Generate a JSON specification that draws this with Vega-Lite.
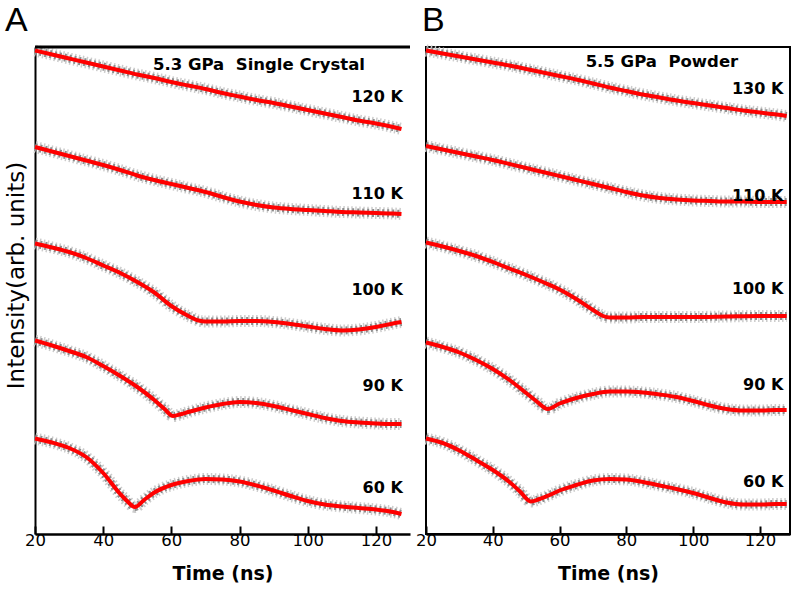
{
  "$schema": "https://vega.github.io/schema/vega-lite/v6.json",
  "background": "white",
  "padding": {"left": 5, "top": 2, "right": 0, "bottom": 0},
  "config": {"font": "DejaVu Sans", "view": {"stroke": null}},
  "spacing": -25,
  "datasets": {
    "A": [
      {"T":"120 K","t":20,"y":96.7},{"T":"120 K","t":25,"y":95.9},{"T":"120 K","t":30,"y":95.1},{"T":"120 K","t":35,"y":94.3},{"T":"120 K","t":40,"y":93.5},{"T":"120 K","t":45,"y":92.7},{"T":"120 K","t":50,"y":91.9},{"T":"120 K","t":55,"y":91.2},{"T":"120 K","t":60,"y":90.4},{"T":"120 K","t":65,"y":89.7},{"T":"120 K","t":70,"y":89.0},{"T":"120 K","t":75,"y":88.2},{"T":"120 K","t":80,"y":87.5},{"T":"120 K","t":85,"y":86.8},{"T":"120 K","t":90,"y":86.2},{"T":"120 K","t":95,"y":85.5},{"T":"120 K","t":100,"y":84.8},{"T":"120 K","t":105,"y":84.1},{"T":"120 K","t":110,"y":83.4},{"T":"120 K","t":115,"y":82.7},{"T":"120 K","t":120,"y":82.1},{"T":"120 K","t":125,"y":81.4},{"T":"120 K","t":127.5,"y":81.0},
      {"T":"110 K","t":20,"y":77.4},{"T":"110 K","t":25,"y":76.5},{"T":"110 K","t":30,"y":75.6},{"T":"110 K","t":35,"y":74.7},{"T":"110 K","t":40,"y":73.8},{"T":"110 K","t":45,"y":72.8},{"T":"110 K","t":50,"y":71.7},{"T":"110 K","t":55,"y":70.8},{"T":"110 K","t":60,"y":70.0},{"T":"110 K","t":65,"y":69.2},{"T":"110 K","t":70,"y":68.4},{"T":"110 K","t":75,"y":67.4},{"T":"110 K","t":80,"y":66.5},{"T":"110 K","t":85,"y":65.8},{"T":"110 K","t":90,"y":65.3},{"T":"110 K","t":95,"y":65.0},{"T":"110 K","t":100,"y":64.8},{"T":"110 K","t":105,"y":64.6},{"T":"110 K","t":110,"y":64.4},{"T":"110 K","t":115,"y":64.3},{"T":"110 K","t":120,"y":64.2},{"T":"110 K","t":125,"y":64.1},{"T":"110 K","t":127.5,"y":64.0},
      {"T":"100 K","t":20,"y":58.1},{"T":"100 K","t":25,"y":57.3},{"T":"100 K","t":30,"y":56.4},{"T":"100 K","t":35,"y":55.2},{"T":"100 K","t":40,"y":53.7},{"T":"100 K","t":45,"y":52.2},{"T":"100 K","t":50,"y":50.4},{"T":"100 K","t":55,"y":48.3},{"T":"100 K","t":60,"y":45.6},{"T":"100 K","t":65,"y":43.6},{"T":"100 K","t":68,"y":42.7},{"T":"100 K","t":70,"y":42.5},{"T":"100 K","t":75,"y":42.5},{"T":"100 K","t":80,"y":42.6},{"T":"100 K","t":85,"y":42.6},{"T":"100 K","t":90,"y":42.4},{"T":"100 K","t":95,"y":42.0},{"T":"100 K","t":100,"y":41.5},{"T":"100 K","t":105,"y":41.0},{"T":"100 K","t":110,"y":40.7},{"T":"100 K","t":115,"y":40.9},{"T":"100 K","t":120,"y":41.4},{"T":"100 K","t":125,"y":42.1},{"T":"100 K","t":127.5,"y":42.4},
      {"T":"90 K","t":20,"y":38.7},{"T":"90 K","t":25,"y":37.7},{"T":"90 K","t":30,"y":36.6},{"T":"90 K","t":35,"y":35.4},{"T":"90 K","t":40,"y":33.6},{"T":"90 K","t":45,"y":31.6},{"T":"90 K","t":50,"y":29.4},{"T":"90 K","t":55,"y":26.8},{"T":"90 K","t":58,"y":25.0},{"T":"90 K","t":60.5,"y":23.6},{"T":"90 K","t":63,"y":24.0},{"T":"90 K","t":65,"y":24.4},{"T":"90 K","t":70,"y":25.3},{"T":"90 K","t":75,"y":26.0},{"T":"90 K","t":80,"y":26.4},{"T":"90 K","t":85,"y":26.2},{"T":"90 K","t":90,"y":25.6},{"T":"90 K","t":95,"y":24.8},{"T":"90 K","t":100,"y":24.0},{"T":"90 K","t":105,"y":23.2},{"T":"90 K","t":110,"y":22.6},{"T":"90 K","t":115,"y":22.3},{"T":"90 K","t":120,"y":22.1},{"T":"90 K","t":125,"y":22.0},{"T":"90 K","t":127.5,"y":22.0},
      {"T":"60 K","t":20,"y":19.1},{"T":"60 K","t":25,"y":18.3},{"T":"60 K","t":30,"y":17.2},{"T":"60 K","t":35,"y":15.4},{"T":"60 K","t":40,"y":12.2},{"T":"60 K","t":45,"y":8.0},{"T":"60 K","t":47,"y":6.6},{"T":"60 K","t":49.3,"y":5.4},{"T":"60 K","t":52,"y":6.8},{"T":"60 K","t":55,"y":8.3},{"T":"60 K","t":60,"y":9.8},{"T":"60 K","t":65,"y":10.6},{"T":"60 K","t":70,"y":11.0},{"T":"60 K","t":75,"y":10.9},{"T":"60 K","t":80,"y":10.5},{"T":"60 K","t":85,"y":9.7},{"T":"60 K","t":90,"y":8.7},{"T":"60 K","t":95,"y":7.6},{"T":"60 K","t":100,"y":6.6},{"T":"60 K","t":105,"y":5.9},{"T":"60 K","t":110,"y":5.5},{"T":"60 K","t":115,"y":5.2},{"T":"60 K","t":120,"y":4.9},{"T":"60 K","t":125,"y":4.4},{"T":"60 K","t":127.5,"y":4.0}
    ],
    "B": [
      {"T":"130 K","t":20,"y":96.7},{"T":"130 K","t":25,"y":96.1},{"T":"130 K","t":30,"y":95.5},{"T":"130 K","t":35,"y":94.9},{"T":"130 K","t":40,"y":94.3},{"T":"130 K","t":45,"y":93.7},{"T":"130 K","t":50,"y":93.0},{"T":"130 K","t":55,"y":92.3},{"T":"130 K","t":60,"y":91.6},{"T":"130 K","t":65,"y":90.9},{"T":"130 K","t":70,"y":90.1},{"T":"130 K","t":75,"y":89.3},{"T":"130 K","t":80,"y":88.6},{"T":"130 K","t":85,"y":87.9},{"T":"130 K","t":90,"y":87.3},{"T":"130 K","t":95,"y":86.7},{"T":"130 K","t":100,"y":86.2},{"T":"130 K","t":105,"y":85.7},{"T":"130 K","t":110,"y":85.2},{"T":"130 K","t":115,"y":84.7},{"T":"130 K","t":120,"y":84.3},{"T":"130 K","t":125,"y":83.9},{"T":"130 K","t":128,"y":83.6},
      {"T":"110 K","t":20,"y":77.6},{"T":"110 K","t":25,"y":76.9},{"T":"110 K","t":30,"y":76.2},{"T":"110 K","t":35,"y":75.5},{"T":"110 K","t":40,"y":74.8},{"T":"110 K","t":45,"y":74.0},{"T":"110 K","t":50,"y":73.2},{"T":"110 K","t":55,"y":72.4},{"T":"110 K","t":60,"y":71.6},{"T":"110 K","t":65,"y":70.8},{"T":"110 K","t":70,"y":70.0},{"T":"110 K","t":75,"y":69.2},{"T":"110 K","t":80,"y":68.4},{"T":"110 K","t":85,"y":67.7},{"T":"110 K","t":90,"y":67.2},{"T":"110 K","t":95,"y":66.9},{"T":"110 K","t":100,"y":66.7},{"T":"110 K","t":105,"y":66.6},{"T":"110 K","t":110,"y":66.5},{"T":"110 K","t":115,"y":66.5},{"T":"110 K","t":120,"y":66.4},{"T":"110 K","t":125,"y":66.4},{"T":"110 K","t":128,"y":66.4},
      {"T":"100 K","t":20,"y":58.3},{"T":"100 K","t":25,"y":57.5},{"T":"100 K","t":30,"y":56.6},{"T":"100 K","t":35,"y":55.6},{"T":"100 K","t":40,"y":54.4},{"T":"100 K","t":45,"y":53.1},{"T":"100 K","t":50,"y":51.8},{"T":"100 K","t":55,"y":50.4},{"T":"100 K","t":60,"y":48.9},{"T":"100 K","t":65,"y":47.0},{"T":"100 K","t":70,"y":44.8},{"T":"100 K","t":73,"y":43.6},{"T":"100 K","t":75,"y":43.3},{"T":"100 K","t":80,"y":43.3},{"T":"100 K","t":85,"y":43.4},{"T":"100 K","t":90,"y":43.4},{"T":"100 K","t":95,"y":43.4},{"T":"100 K","t":100,"y":43.4},{"T":"100 K","t":110,"y":43.5},{"T":"100 K","t":120,"y":43.6},{"T":"100 K","t":128,"y":43.6},
      {"T":"90 K","t":20,"y":38.3},{"T":"90 K","t":25,"y":37.4},{"T":"90 K","t":30,"y":36.3},{"T":"90 K","t":35,"y":34.8},{"T":"90 K","t":40,"y":33.0},{"T":"90 K","t":45,"y":30.8},{"T":"90 K","t":50,"y":28.2},{"T":"90 K","t":53,"y":26.6},{"T":"90 K","t":56.5,"y":25.0},{"T":"90 K","t":60,"y":26.1},{"T":"90 K","t":63,"y":26.8},{"T":"90 K","t":65,"y":27.2},{"T":"90 K","t":70,"y":28.0},{"T":"90 K","t":75,"y":28.5},{"T":"90 K","t":80,"y":28.5},{"T":"90 K","t":85,"y":28.3},{"T":"90 K","t":90,"y":27.9},{"T":"90 K","t":95,"y":27.4},{"T":"90 K","t":100,"y":26.6},{"T":"90 K","t":105,"y":25.7},{"T":"90 K","t":110,"y":25.0},{"T":"90 K","t":115,"y":24.7},{"T":"90 K","t":120,"y":24.7},{"T":"90 K","t":125,"y":24.8},{"T":"90 K","t":128,"y":24.8},
      {"T":"60 K","t":20,"y":19.1},{"T":"60 K","t":25,"y":18.2},{"T":"60 K","t":30,"y":16.7},{"T":"60 K","t":35,"y":14.8},{"T":"60 K","t":40,"y":12.8},{"T":"60 K","t":45,"y":10.4},{"T":"60 K","t":48,"y":8.6},{"T":"60 K","t":51.4,"y":6.5},{"T":"60 K","t":54,"y":7.0},{"T":"60 K","t":57,"y":7.8},{"T":"60 K","t":60,"y":8.7},{"T":"60 K","t":65,"y":9.8},{"T":"60 K","t":70,"y":10.7},{"T":"60 K","t":75,"y":11.0},{"T":"60 K","t":80,"y":10.9},{"T":"60 K","t":85,"y":10.4},{"T":"60 K","t":90,"y":9.7},{"T":"60 K","t":95,"y":9.0},{"T":"60 K","t":100,"y":8.2},{"T":"60 K","t":105,"y":7.2},{"T":"60 K","t":110,"y":6.3},{"T":"60 K","t":115,"y":5.9},{"T":"60 K","t":120,"y":5.9},{"T":"60 K","t":125,"y":6.0},{"T":"60 K","t":128,"y":6.0}
    ],
    "labA": [
      {"kind":"T","t":127.9,"y":87.4,"label":"120 K"},
      {"kind":"T","t":127.9,"y":68.0,"label":"110 K"},
      {"kind":"T","t":127.9,"y":48.8,"label":"100 K"},
      {"kind":"T","t":127.9,"y":29.6,"label":"90 K"},
      {"kind":"T","t":127.9,"y":9.2,"label":"60 K"},
      {"kind":"S","t":54.6,"y":93.8,"label":"5.3 GPa\u00a0 Single Crystal"}
    ],
    "labB": [
      {"kind":"T","t":127.0,"y":89.0,"label":"130 K"},
      {"kind":"T","t":127.0,"y":67.6,"label":"110 K"},
      {"kind":"T","t":127.0,"y":49.0,"label":"100 K"},
      {"kind":"T","t":127.0,"y":29.8,"label":"90 K"},
      {"kind":"T","t":127.0,"y":10.4,"label":"60 K"},
      {"kind":"S","t":67.8,"y":94.4,"label":"5.5 GPa\u00a0 Powder"}
    ]
  },
  "hconcat": [
    {
      "title": {"text": "A", "anchor": "start", "fontSize": 34, "font": "Liberation Sans", "fontWeight": "normal", "color": "black", "offset": -11},
      "width": 375,
      "height": 487,
      "view": {"stroke": null},
      "layer": [
        {
          "data": {"name": "A"},
          "mark": {"type": "line", "strokeWidth": 12, "color": "#cccccc", "strokeDash": [1.5, 2.5], "interpolate": "monotone"},
          "encoding": {
            "x": {"field": "t", "type": "quantitative", "scale": {"domain": [20, 130], "nice": false, "zero": false},
              "axis": {"title": "Time (ns)", "values": [20, 30, 40, 50, 60, 70, 80, 90, 100, 110, 120], "labelExpr": "datum.value % 20 === 0 ? datum.label : ''",
                "grid": false, "domainColor": "black", "domainWidth": 2.5, "tickColor": "black", "tickWidth": 2,
                "tickSize": {"condition": {"test": "datum.value % 20 === 0", "value": -8}, "value": -4},
                "labelFontSize": 16.5, "labelColor": "black", "labelFlush": false, "labelPadding": 6,
                "titleFontSize": 19, "titleFontWeight": "bold", "titleColor": "black", "titlePadding": 16}},
            "y": {"field": "y", "type": "quantitative", "scale": {"domain": [0, 97.4], "nice": false, "zero": false},
              "axis": {"title": "Intensity(arb. units)", "labels": false, "ticks": false, "grid": false, "domainColor": "black", "domainWidth": 2,
                "titleFontSize": 23, "titleFontWeight": "normal", "titleColor": "black", "titlePadding": 7, "titleY": 228}},
            "detail": {"field": "T"}
          }
        },
        {
          "data": {"name": "A"},
          "mark": {"type": "line", "strokeWidth": 8, "color": "#8c8c8c", "strokeDash": [2, 3], "interpolate": "monotone"},
          "encoding": {"x": {"field": "t", "type": "quantitative"}, "y": {"field": "y", "type": "quantitative"}, "detail": {"field": "T"}}
        },
        {
          "data": {"name": "A"},
          "mark": {"type": "line", "strokeWidth": 4, "color": "#ff0000", "interpolate": "monotone"},
          "encoding": {"x": {"field": "t", "type": "quantitative"}, "y": {"field": "y", "type": "quantitative"}, "detail": {"field": "T"}}
        },
        {
          "data": {"values": [{"t0": 20, "t1": 130, "y": 97.4}]},
          "mark": {"type": "rule", "strokeWidth": 3, "color": "black"},
          "encoding": {"x": {"field": "t0", "type": "quantitative"}, "x2": {"field": "t1"}, "y": {"field": "y", "type": "quantitative"}}
        },
        {
          "data": {"name": "labA"},
          "transform": [{"filter": "datum.kind === 'T'"}],
          "mark": {"type": "text", "align": "right", "baseline": "middle", "fontSize": 16, "fontWeight": "bold", "color": "black"},
          "encoding": {"x": {"field": "t", "type": "quantitative"}, "y": {"field": "y", "type": "quantitative"}, "text": {"field": "label"}}
        },
        {
          "data": {"name": "labA"},
          "transform": [{"filter": "datum.kind === 'S'"}],
          "mark": {"type": "text", "align": "left", "baseline": "middle", "fontSize": 16.5, "fontWeight": "bold", "color": "black"},
          "encoding": {"x": {"field": "t", "type": "quantitative"}, "y": {"field": "y", "type": "quantitative"}, "text": {"field": "label"}}
        }
      ]
    },
    {
      "title": {"text": "B", "anchor": "start", "fontSize": 34, "font": "Liberation Sans", "fontWeight": "normal", "color": "black", "offset": -11, "dx": 20},
      "width": 364,
      "height": 487,
      "view": {"stroke": "black", "strokeWidth": 2},
      "layer": [
        {
          "data": {"name": "B"},
          "mark": {"type": "line", "strokeWidth": 12, "color": "#cccccc", "strokeDash": [1.5, 2.5], "interpolate": "monotone"},
          "encoding": {
            "x": {"field": "t", "type": "quantitative", "scale": {"domain": [20, 129], "nice": false, "zero": false},
              "axis": {"title": "Time (ns)", "values": [20, 30, 40, 50, 60, 70, 80, 90, 100, 110, 120], "labelExpr": "datum.value % 20 === 0 ? datum.label : ''",
                "grid": false, "domainColor": "black", "domainWidth": 2.5, "tickColor": "black", "tickWidth": 2,
                "tickSize": {"condition": {"test": "datum.value % 20 === 0", "value": -8}, "value": -4},
                "labelFontSize": 16.5, "labelColor": "black", "labelFlush": false, "labelPadding": 6,
                "titleFontSize": 19, "titleFontWeight": "bold", "titleColor": "black", "titlePadding": 16}},
            "y": {"field": "y", "type": "quantitative", "scale": {"domain": [0, 97.4], "nice": false, "zero": false}, "axis": null},
            "detail": {"field": "T"}
          }
        },
        {
          "data": {"name": "B"},
          "mark": {"type": "line", "strokeWidth": 8, "color": "#8c8c8c", "strokeDash": [2, 3], "interpolate": "monotone"},
          "encoding": {"x": {"field": "t", "type": "quantitative"}, "y": {"field": "y", "type": "quantitative"}, "detail": {"field": "T"}}
        },
        {
          "data": {"name": "B"},
          "mark": {"type": "line", "strokeWidth": 4, "color": "#ff0000", "interpolate": "monotone"},
          "encoding": {"x": {"field": "t", "type": "quantitative"}, "y": {"field": "y", "type": "quantitative"}, "detail": {"field": "T"}}
        },
        {
          "data": {"name": "labB"},
          "transform": [{"filter": "datum.kind === 'T'"}],
          "mark": {"type": "text", "align": "right", "baseline": "middle", "fontSize": 16, "fontWeight": "bold", "color": "black"},
          "encoding": {"x": {"field": "t", "type": "quantitative"}, "y": {"field": "y", "type": "quantitative"}, "text": {"field": "label"}}
        },
        {
          "data": {"name": "labB"},
          "transform": [{"filter": "datum.kind === 'S'"}],
          "mark": {"type": "text", "align": "left", "baseline": "middle", "fontSize": 16.5, "fontWeight": "bold", "color": "black"},
          "encoding": {"x": {"field": "t", "type": "quantitative"}, "y": {"field": "y", "type": "quantitative"}, "text": {"field": "label"}}
        }
      ]
    }
  ]
}
